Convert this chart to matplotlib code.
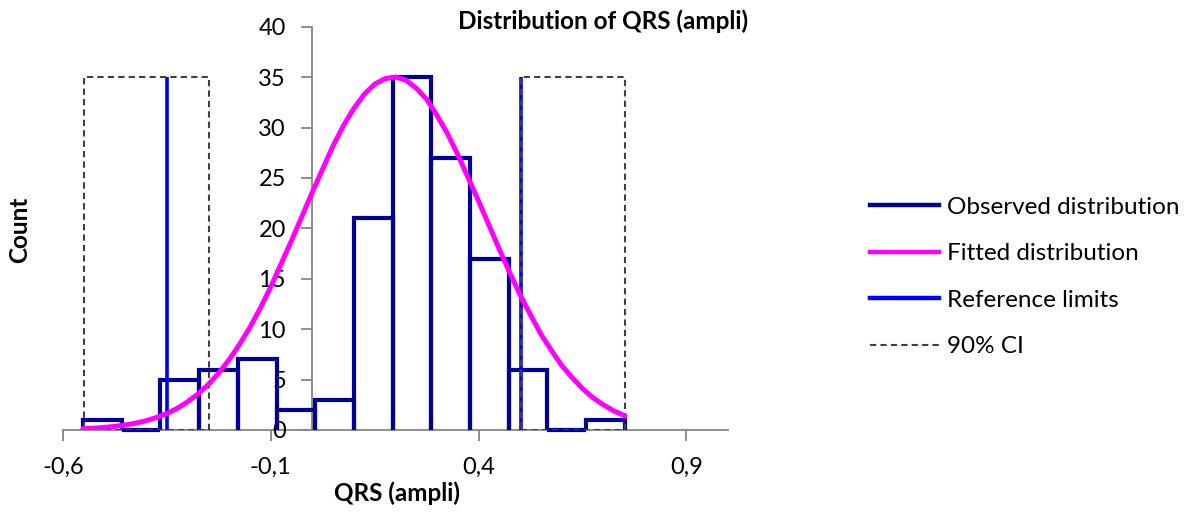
import matplotlib
matplotlib.use("Agg")
import matplotlib.pyplot as plt
from matplotlib.patches import Rectangle
from matplotlib.lines import Line2D

plt.rcParams['font.family'] = ['Lato', 'DejaVu Sans']

# ---- data ----
bin_edges = [-0.552, -0.459, -0.366, -0.273, -0.180, -0.086, 0.007, 0.100,
             0.193, 0.286, 0.379, 0.472, 0.565, 0.659, 0.752]
counts = [1, 0, 5, 6, 7, 2, 3, 21, 35, 27, 17, 6, 0, 1]

fit_x = [-0.552, -0.525, -0.500, -0.475, -0.450, -0.425, -0.400, -0.375, -0.350,
         -0.325, -0.300, -0.275, -0.250, -0.225, -0.200, -0.175, -0.150, -0.125,
         -0.100, -0.075, -0.050, -0.025, 0.000, 0.025, 0.050, 0.075, 0.100,
         0.125, 0.150, 0.175, 0.200, 0.225, 0.250, 0.275, 0.300, 0.325, 0.350,
         0.375, 0.400, 0.425, 0.450, 0.475, 0.500, 0.525, 0.550, 0.575, 0.600,
         0.625, 0.650, 0.675, 0.700, 0.725, 0.752]
fit_y = [0.15, 0.18, 0.26, 0.36, 0.50, 0.68, 0.92, 1.24, 1.64,
         2.15, 2.80, 3.58, 4.53, 5.66, 6.99, 8.51, 10.2, 12.1,
         14.2, 16.5, 18.8, 21.2, 23.6, 25.9, 28.2, 30.2, 31.9,
         33.3, 34.3, 34.85, 35.0, 34.7, 33.9, 32.8, 31.2, 29.4, 27.3,
         25.0, 22.7, 20.3, 17.9, 15.6, 13.4, 11.4, 9.5, 7.9, 6.4,
         5.2, 4.1, 3.2, 2.5, 1.9, 1.4]

ref_limits = [-0.350, 0.503]
ref_height = 35
ci_boxes = [(-0.550, -0.249), (0.503, 0.752)]

x_ticks = [-0.6, -0.1, 0.4, 0.9]
x_tick_labels = ["-0,6", "-0,1", "0,4", "0,9"]
y_ticks = [0, 5, 10, 15, 20, 25, 30, 35, 40]

title = "Distribution of QRS (ampli)"
xlabel = "QRS (ampli)"
ylabel = "Count"
legend_labels = ["Observed distribution", "Fitted distribution",
                 "Reference limits", "90% CI"]

# ---- styles ----
NAVY = "#000099"
MAGENTA = "#FF00FF"
BLUE = "#0000FF"
DASH = "#404040"
AXIS = "#868686"

fig = plt.figure(figsize=(11.92, 5.12), dpi=100)
ax = fig.add_axes([63 / 1192, 1 - 430 / 512, (728 - 63) / 1192, (430 - 26.7) / 512])

# histogram: open bars (left, top, right edges), zero bins as a line at 0
for i, c in enumerate(counts):
    l, r = bin_edges[i], bin_edges[i + 1]
    if c > 0:
        ax.plot([l, l, r, r], [0, c, c, 0], color=NAVY, linewidth=3.0,
                solid_joinstyle='miter', solid_capstyle='butt', zorder=2,
                clip_on=False)
    else:
        ax.plot([l, r], [0, 0], color=NAVY, linewidth=3.0,
                solid_capstyle='butt', zorder=2, clip_on=False)

for xr in ref_limits:
    ax.plot([xr, xr], [0, ref_height], color=BLUE, linewidth=2.6, zorder=3,
            solid_capstyle='butt')

for (a, b) in ci_boxes:
    ax.add_patch(Rectangle((a, 0), b - a, ref_height, fill=False, edgecolor=DASH,
                           linestyle=(0, (3, 2)), linewidth=1.5, zorder=4))

ax.plot(fit_x, fit_y, color=MAGENTA, linewidth=3.6, zorder=5,
        solid_capstyle='round', solid_joinstyle='round')

ax.set_xlim(-0.6, 1.0)
ax.set_ylim(0, 40)
ax.spines['left'].set_position(('data', 0))
ax.spines['right'].set_visible(False)
ax.spines['top'].set_visible(False)
for s in ('left', 'bottom'):
    ax.spines[s].set_color(AXIS)
    ax.spines[s].set_linewidth(1.3)
    ax.spines[s].set_zorder(1)
ax.set_xticks(x_ticks)
ax.set_xticklabels(x_tick_labels)
ax.set_yticks(y_ticks)
ax.tick_params(axis='both', colors=AXIS, labelcolor='black', labelsize=17,
               length=8, width=1.3)
ax.tick_params(axis='x', pad=11)
ax.tick_params(axis='y', pad=11)
ax.patch.set_alpha(0)

fig.text(603 / 1192, 1 - 21 / 512, title, ha='center', va='center',
         fontsize=17.5, fontweight='bold')
fig.text(397 / 1192, 1 - 493 / 512, xlabel, ha='center', va='center',
         fontsize=17.5, fontweight='bold')
fig.text(20 / 1192, 1 - 230 / 512, ylabel, ha='center', va='center',
         rotation=90, fontsize=17.5, fontweight='bold')

handles = [
    Line2D([], [], color=NAVY, linewidth=3.2),
    Line2D([], [], color=MAGENTA, linewidth=3.2),
    Line2D([], [], color=BLUE, linewidth=3.2),
    Line2D([], [], color=DASH, linewidth=1.5, linestyle=(0, (3, 2))),
]
fig.legend(handles, legend_labels, loc='center left',
           bbox_to_anchor=(870 / 1192, 1 - 277 / 512), frameon=False,
           fontsize=17.5, handlelength=2.85, handletextpad=0.33, labelspacing=1.05,
           borderpad=0, borderaxespad=0)

fig.savefig("out.png", dpi=100)
